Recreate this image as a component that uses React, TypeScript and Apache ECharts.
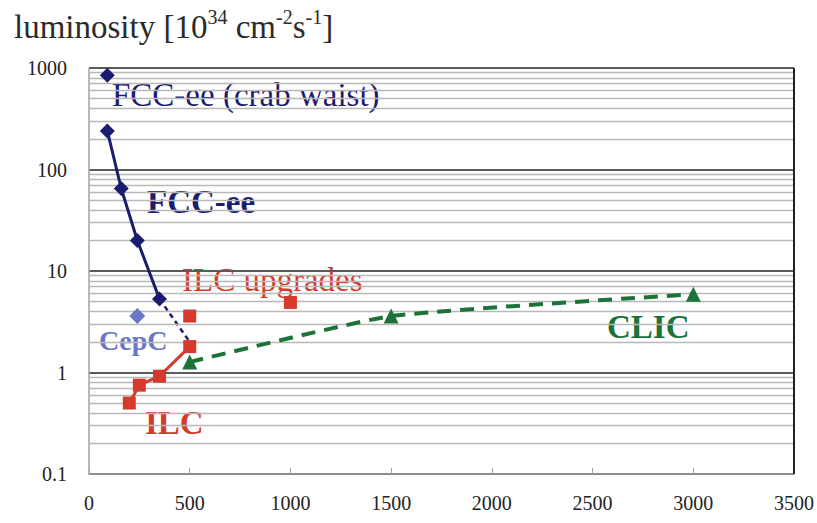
import React, { useEffect, useRef } from "react";
import * as echarts from "echarts";

const xTicks = [0, 500, 1000, 1500, 2000, 2500, 3000, 3500];
const yTicks = [0.1, 1, 10, 100, 1000];
const minorGrid = [
  0.2, 0.3, 0.4, 0.5, 0.6, 0.7, 0.8, 0.9,
  2, 3, 4, 5, 6, 7, 8, 9,
  20, 30, 40, 50, 60, 70, 80, 90,
  200, 300, 400, 500, 600, 700, 800, 900,
];

const fccCrabWaist: [number, number][] = [[91, 850]];
const fccEe: [number, number][] = [[91, 240], [160, 65], [240, 20], [350, 5.3]];
const fccEeExt: [number, number][] = [[350, 5.3], [500, 2.0]];
const cepc: [number, number][] = [[240, 3.6]];
const ilc: [number, number][] = [[200, 0.5], [250, 0.75], [350, 0.92], [500, 1.8]];
const ilcUpgrades: [number, number][] = [[500, 3.6], [1000, 4.9]];
const clic: [number, number][] = [[500, 1.27], [1500, 3.6], [3000, 5.9]];

const NAVY = "#1b1b6f";
const RED = "#d63a2c";
const GREEN = "#1c7339";
const CEPC = "#6c76c8";
const SERIF = "Liberation Serif";

const tickRich = {
  t: { fontFamily: SERIF, fontSize: 20, color: "#222" },
};

export default function App() {
  const ref = useRef<HTMLDivElement>(null);
  useEffect(() => {
    if (!ref.current) return;
    const chart = echarts.init(ref.current, undefined, { renderer: "svg" });
    const txt = (text: string, left: number, top: number, size: number, weight: string, fill: string) => ({
      type: "text",
      left,
      top,
      style: { text, fontFamily: SERIF, fontSize: size, fontWeight: weight, fill },
    });
    chart.setOption({
      animation: false,
      backgroundColor: "#ffffff",
      textStyle: { fontFamily: SERIF },
      title: {
        left: 9,
        top: 2,
        text: "{a|luminosity [10}{s|34}{a| cm}{s|-2}{a|s}{s|-1}{a|]}",
        textStyle: {
          fontWeight: "normal",
          fontFamily: SERIF,
          rich: {
            a: { fontFamily: SERIF, fontWeight: "normal", fontSize: 33, lineHeight: 40, color: "#2a2a2a" },
            s: { fontFamily: SERIF, fontWeight: "normal", fontSize: 20, lineHeight: 22, verticalAlign: "top", color: "#2a2a2a" },
          },
        },
      },
      grid: { left: 89, right: 21, top: 68, bottom: 49, containLabel: false },
      xAxis: {
        type: "value",
        min: xTicks[0],
        max: xTicks[xTicks.length - 1],
        interval: 500,
        axisLine: { show: true, lineStyle: { color: "#a0a0a0", width: 1.5 } },
        axisTick: { show: true, inside: true, length: 6, lineStyle: { color: "#a0a0a0" } },
        splitLine: { show: false },
        axisLabel: {
          fontFamily: SERIF,
          fontSize: 20,
          color: "#222",
          margin: 19,
          rich: tickRich,
          formatter: (v: number) => (xTicks.includes(v) ? `{t|${v}}` : ""),
        },
      },
      yAxis: {
        type: "log",
        logBase: 10,
        min: yTicks[0],
        max: yTicks[yTicks.length - 1],
        axisLine: { show: true, lineStyle: { color: "#a0a0a0", width: 1.5 } },
        axisTick: { show: false },
        splitLine: { show: true, lineStyle: { color: "#5a5a5a", width: 1.8 } },
        axisLabel: {
          fontFamily: SERIF,
          fontSize: 20,
          color: "#222",
          margin: 22,
          rich: tickRich,
          formatter: (v: number) => `{t|${v}}`,
        },
      },
      graphic: [
        txt("FCC-ee (crab waist)", 112, 78, 33, "normal", NAVY),
        txt("FCC-ee", 147, 185, 33, "bold", NAVY),
        txt("ILC upgrades", 182, 263, 33, "normal", RED),
        txt("CepC", 99, 326, 28, "bold", CEPC),
        txt("ILC", 145, 406, 33, "bold", RED),
        txt("CLIC", 607, 310, 33, "bold", GREEN),
      ],
      series: [
        {
          name: "grid",
          type: "line",
          data: [[0, 0.1]],
          showSymbol: false,
          symbol: "none",
          lineStyle: { opacity: 0 },
          silent: true,
          z: 1,
          markLine: {
            silent: true,
            symbol: "none",
            label: { show: false },
            lineStyle: { color: "#b8b8b8", width: 1.3, type: "solid" },
            data: [
              ...minorGrid.map((v) => ({ yAxis: v })),
              { xAxis: xTicks[xTicks.length - 1], lineStyle: { color: "#222", width: 2 } },
            ],
          },
        },
        {
          name: "FCC-ee crab waist",
          type: "scatter",
          data: fccCrabWaist,
          symbol: "diamond",
          symbolSize: 15,
          itemStyle: { color: NAVY, opacity: 1 },
          z: 5,
        },
        {
          name: "FCC-ee",
          type: "line",
          data: fccEe,
          symbol: "diamond",
          symbolSize: 15,
          itemStyle: { color: NAVY, opacity: 1 },
          lineStyle: { color: NAVY, width: 3 },
          z: 5,
        },
        {
          name: "FCC-ee ext",
          type: "line",
          data: fccEeExt,
          showSymbol: false,
          symbol: "none",
          lineStyle: { color: NAVY, width: 2.5, type: [5, 4] },
          z: 4,
        },
        {
          name: "CepC",
          type: "scatter",
          data: cepc,
          symbol: "diamond",
          symbolSize: 16,
          itemStyle: { color: CEPC, opacity: 1 },
          z: 5,
        },
        {
          name: "ILC",
          type: "line",
          data: ilc,
          symbol: "rect",
          symbolSize: 13,
          itemStyle: { color: RED, opacity: 1 },
          lineStyle: { color: RED, width: 3 },
          z: 5,
        },
        {
          name: "ILC upgrades",
          type: "scatter",
          data: ilcUpgrades,
          symbol: "rect",
          symbolSize: 13,
          itemStyle: { color: RED, opacity: 1 },
          z: 5,
        },
        {
          name: "CLIC",
          type: "line",
          data: clic,
          smooth: 0.14,
          symbol: "triangle",
          symbolSize: 15,
          itemStyle: { color: GREEN, opacity: 1 },
          lineStyle: { color: GREEN, width: 4, type: [14, 9] },
          z: 6,
        },
      ],
    });
    return () => chart.dispose();
  }, []);
  return (
    <div
      ref={ref}
      style={{ position: "absolute", left: 0, top: 0, width: 817, height: 523 }}
    />
  );
}
